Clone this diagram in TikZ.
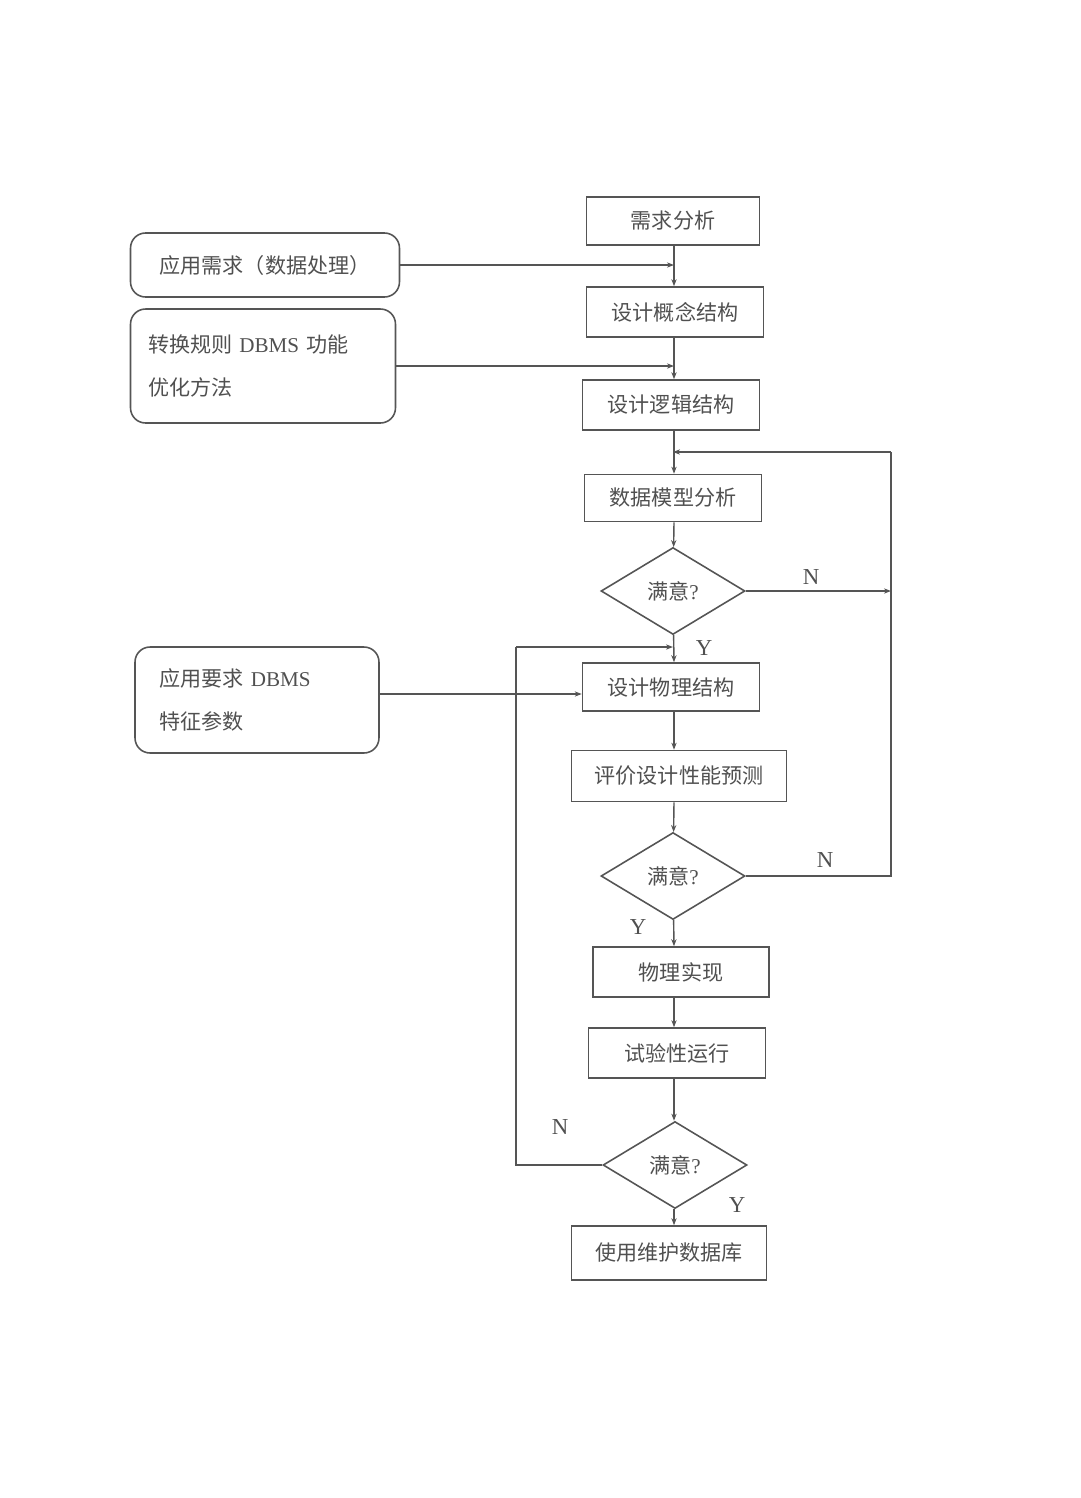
\documentclass[tikz,border=0pt]{standalone}
\usepackage{fontspec}
\setmainfont{Liberation Serif}
\newfontfamily\cjk{Noto Sans CJK SC}
\usetikzlibrary{shapes.geometric,arrows.meta}

\definecolor{linegray}{HTML}{555555}
\definecolor{textgray}{HTML}{505050}

\tikzset{
  stepbox/.style={draw=linegray, line width=0.9pt, minimum width=3.54cm, minimum height=1cm,
    inner sep=2pt, font=\cjk\fontsize{12}{14}\selectfont, text=textgray},
  inbox/.style={draw=linegray, line width=0.9pt, rounded corners=0.3cm, inner sep=2pt,
    font=\cjk\fontsize{12}{14}\selectfont, text=textgray},
  check/.style={draw=linegray, line width=0.9pt, diamond, aspect=1.65, inner sep=0pt,
    minimum width=2.88cm, minimum height=1.74cm, font=\cjk\fontsize{12}{14}\selectfont, text=textgray},
  link/.style={draw=linegray, line width=0.8pt, -{Stealth[length=4pt,width=3pt]}},
  plain/.style={draw=linegray, line width=0.8pt},
  yn/.style={font=\fontsize{13}{15}\selectfont, text=textgray}
}

\begin{document}
\begin{tikzpicture}[x=0.02cm, y=-0.02cm]
  \useasboundingbox (0,0) rectangle (1080,1498);

  % main column
  \node [stepbox, minimum width=3.46cm, minimum height=0.96cm] (need) at (673,221) {需求分析};
  \node [stepbox] (concept) at (675,312) {设计概念结构};
  \node [stepbox] (logic) at (671,405) {设计逻辑结构};
  \node [stepbox, minimum height=0.94cm] (model) at (673,498) {数据模型分析};
  \node [check] (ok1) at (673,591) {满意{\rmfamily ?}};
  \node [stepbox, minimum height=0.96cm] (phys) at (671,687) {设计物理结构};
  \node [stepbox, minimum width=4.3cm, minimum height=1.02cm] (eval) at (679,776) {评价设计性能预测};
  \node [check] (ok2) at (673,876) {满意{\rmfamily ?}};
  \node [stepbox, minimum width=3.52cm] (impl) at (681,972) {物理实现};
  \node [stepbox] (trial) at (677,1053) {试验性运行};
  \node [check] (ok3) at (675,1165) {满意{\rmfamily ?}};
  \node [stepbox, minimum width=3.9cm, minimum height=1.08cm] (use) at (669,1253) {使用维护数据库};

  % inputs on the left
  \node [inbox, minimum width=5.38cm, minimum height=1.28cm] (req) at (265,265) {应用需求（数据处理）};
  \node [inbox, minimum width=5.3cm, minimum height=2.28cm, align=left, text width=4.6cm]
    (rule) at (263,366) {转换规则 {\rmfamily DBMS} 功能\\[10pt]优化方法};
  \node [inbox, minimum width=4.88cm, minimum height=2.12cm, align=left, text width=3.9cm]
    (param) at (257,700) {应用要求 {\rmfamily DBMS}\\[10pt]特征参数};

  \coordinate (spine) at (674,0);
  \coordinate (top) at (673,452);
  \coordinate (rtop) at (891,452);
  \coordinate (rmid) at (891,591);
  \coordinate (rbot) at (891,876);
  \coordinate (back) at (673,647);
  \coordinate (lbot) at (516,1165);
  \coordinate (ltop) at (516,647);

  \draw [link] (need.south -| spine) -- (concept.north -| spine);
  \draw [link] (concept.south -| spine) -- (logic.north -| spine);
  \draw [link] (logic.south -| spine) -- (model.north -| spine);
  \draw [link] (model.south -| spine) -- (ok1);
  \draw [link] (ok1) -- (phys.north -| spine);
  \draw [link] (phys.south -| spine) -- (eval.north -| spine);
  \draw [link] (eval.south -| spine) -- (ok2);
  \draw [link] (ok2) -- (impl.north -| spine);
  \draw [link] (impl.south -| spine) -- (trial.north -| spine);
  \draw [link] (trial.south -| spine) -- (ok3.north -| spine);
  \draw [link] (ok3.south -| spine) -- (use.north -| spine);

  \draw [link] (req.east) -- (req.east -| spine);
  \draw [link] (rule.east) -- (rule.east -| spine);
  \draw [link] ([yshift=0.12cm]param.east) -- ([yshift=0.12cm]param.east -| phys.west);

  % N loops
  \draw [link] (ok1.east) -- (rmid);
  \draw [plain] (ok2.east) -- (rbot) -- (rtop);
  \draw [link] (rtop) -- (top);
  \draw [plain] (ok3.west) -- (lbot) -- (ltop);
  \draw [link] (ltop) -- (back);

  % labels
  \node [yn] (n1) at (811,577) {N};
  \node [yn] (y1) at (704,648) {Y};
  \node [yn] (n2) at (825,860) {N};
  \node [yn] (y2) at (638,927) {Y};
  \node [yn] (n3) at (560,1127) {N};
  \node [yn] (y3) at (737,1205) {Y};
\end{tikzpicture}
\end{document}
